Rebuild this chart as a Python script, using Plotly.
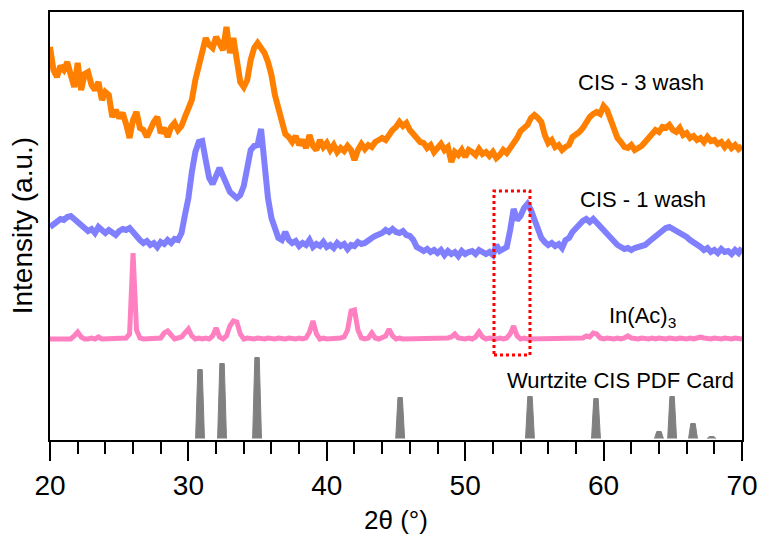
import plotly.graph_objects as go

# 2-theta sampling grid (degrees), 0.25 deg step from 20 to 70
two_theta = [20 + 0.25 * i for i in range(201)]

cis_3wash = [
    393, 370, 363, 374, 370, 378, 365, 353, 377, 350, 366, 368, 355, 350, 358, 340, 348, 345, 323, 330,
    322, 327, 316, 302, 320, 328, 312, 310, 303, 312, 318, 323, 307, 312, 303, 313, 317, 310, 314, 323,
    330, 340, 360, 375, 390, 402, 395, 392, 403, 395, 390, 413, 387, 402, 378, 358, 353, 360, 380, 392,
    397, 393, 387, 378, 365, 345, 332, 318, 306, 303, 298, 304, 295, 300, 292, 305, 294, 290, 300, 293,
    297, 290, 295, 288, 292, 289, 294, 290, 280, 290, 296, 291, 295, 293, 298, 300, 302, 300, 306, 310,
    313, 318, 314, 317, 310, 305, 302, 298, 297, 292, 295, 288, 293, 296, 290, 293, 278, 288, 285, 290,
    283, 290, 288, 285, 291, 286, 288, 284, 288, 282, 285, 290, 287, 292, 295, 302, 309, 312, 315, 322,
    325, 322, 318, 305, 297, 300, 293, 295, 290, 293, 295, 303, 305, 308, 312, 318, 323, 326, 328, 326,
    334, 330, 320, 310, 302, 298, 293, 292, 295, 290, 292, 294, 298, 302, 305, 310, 308, 313, 312, 315,
    310, 308, 312, 305, 307, 302, 304, 300, 302, 298, 303, 299, 300, 296, 298, 293, 297, 292, 295, 291,
    294,
]

cis_1wash = [
    213, 216, 218, 221, 220, 223, 224, 221, 218, 215, 212, 209, 211, 207, 213, 209, 207, 210, 208, 205,
    209, 211, 210, 212, 208, 203, 200, 197, 199, 195, 197, 193, 198, 196, 200, 197, 201, 200, 207, 225,
    242, 268, 288, 298, 299, 280, 262, 256, 264, 272, 264, 257, 248, 245, 242, 245, 254, 272, 290, 294,
    295, 311, 272, 242, 222, 210, 202, 200, 208, 200, 197, 199, 194, 197, 195, 200, 193, 196, 194, 198,
    193, 195, 192, 197, 194, 196, 191, 195, 194, 198, 196, 197, 200, 202, 204, 205, 207, 210, 208, 211,
    208, 207, 209, 205, 204, 200, 193, 191, 189, 191, 188, 190, 187, 190, 185, 189, 186, 188, 184, 189,
    186, 188, 189, 186, 190, 188, 186, 188, 185, 195, 189, 191, 193, 210, 231, 220, 224, 232, 236, 230,
    220, 210, 202, 198, 195, 197, 194, 196, 192, 200, 202, 208, 212, 216, 219, 221, 218, 221, 217, 213,
    210, 205, 202, 198, 195, 193, 191, 192, 190, 192, 193, 194, 195, 198, 201, 204, 207, 209, 212, 213,
    211, 210, 208, 205, 203, 200, 198, 195, 193, 190, 192, 188, 190, 187, 191, 188, 189, 186, 190, 187,
    192,
]

in_ac3 = [
    101, 101, 102, 101, 101, 102, 101, 104, 108, 103, 101, 101, 102, 101, 103, 101, 101, 102, 101, 101,
    102, 101, 102, 106, 187, 110, 102, 101, 101, 102, 101, 102, 102, 107, 109, 105, 101, 102, 103, 107,
    111, 104, 101, 102, 101, 102, 101, 104, 112, 103, 101, 104, 114, 119, 118, 106, 101, 102, 101, 101,
    102, 101, 101, 102, 101, 101, 102, 101, 101, 102, 101, 101, 102, 101, 102, 108, 119, 106, 101, 102,
    101, 101, 102, 101, 102, 103, 110, 129, 130, 110, 102, 101, 102, 107, 102, 101, 102, 104, 111, 104,
    101, 102, 101, 101, 102, 101, 101, 102, 101, 101, 102, 101, 101, 102, 101, 102, 103, 106, 102, 101,
    101, 102, 101, 103, 108, 103, 101, 102, 101, 101, 102, 101, 102, 106, 114, 104, 101, 102, 101, 101,
    102, 101, 101, 102, 101, 101, 102, 101, 101, 102, 101, 101, 102, 101, 102, 104, 103, 107, 106, 102,
    101, 102, 101, 101, 102, 101, 102, 104, 102, 101, 101, 102, 101, 101, 102, 101, 102, 101, 101, 102,
    101, 101, 102, 101, 101, 102, 101, 102, 103, 102, 101, 101, 102, 101, 101, 102, 101, 101, 102, 101,
    101,
]

# Wurtzite CIS reference card: peak positions (deg) and heights (a.u.)
pdf_pos = [30.84, 32.43, 34.96, 45.30, 54.68, 59.45, 64.00, 64.95, 66.46, 67.80]
pdf_height = [69, 75, 81, 41, 42, 40, 7, 42, 15, 2]
pdf_base = 1.5

labels = ["CIS - 3 wash", "CIS - 1 wash", "In(Ac)<sub>3</sub>", "Wurtzite CIS PDF Card"]
label_x = [62.7, 62.85, 62.8, 61.2]
label_y = [358, 241, 123, 60]

# build filled peak outlines for the PDF card
px, py = [], []
for c, h in zip(pdf_pos, pdf_height):
    px += [c - 0.32, c - 0.16, c + 0.16, c + 0.32, None]
    py += [pdf_base, pdf_base + h, pdf_base + h, pdf_base, None]

fig = go.Figure()
fig.add_trace(go.Scatter(x=px, y=py, mode="lines", fill="toself", fillcolor="#808080",
                         line=dict(color="#808080", width=1), connectgaps=False,
                         showlegend=False, hoverinfo="skip"))
fig.add_trace(go.Scatter(x=two_theta, y=in_ac3, mode="lines",
                         line=dict(color="#FF80C0", width=5), showlegend=False))
fig.add_trace(go.Scatter(x=two_theta, y=cis_1wash, mode="lines",
                         line=dict(color="#8080FF", width=6), showlegend=False))
fig.add_trace(go.Scatter(x=two_theta, y=cis_3wash, mode="lines",
                         line=dict(color="#FF8000", width=6), showlegend=False))

font_family = "Liberation Sans, Arial, sans-serif"
annotations = []
for t, x, y in zip(labels, label_x, label_y):
    annotations.append(dict(x=x, y=y, xref="x", yref="y", text=t, showarrow=False,
                            font=dict(size=22, color="black", family=font_family),
                            xanchor="center", yanchor="middle"))
annotations.append(dict(x=0.5, y=-0.187, xref="paper", yref="paper", text="2θ (°)",
                        showarrow=False, font=dict(size=26, color="black", family=font_family),
                        xanchor="center", yanchor="middle"))
annotations.append(dict(x=-0.04, y=0.5, xref="paper", yref="paper", text="Intensity (a.u.)",
                        showarrow=False, textangle=-90,
                        font=dict(size=28, color="black", family=font_family),
                        xanchor="center", yanchor="middle"))

fig.update_layout(
    width=762, height=535,
    margin=dict(l=50, r=20, t=12, b=95),
    paper_bgcolor="white", plot_bgcolor="white",
    font=dict(family=font_family, color="black"),
    annotations=annotations,
    shapes=[dict(type="rect", xref="x", yref="y", x0=52.08, x1=54.68, y0=85, y1=249,
                 line=dict(color="red", width=3, dash="dot"), layer="above")],
    xaxis=dict(range=[20, 70], showline=True, linecolor="black", linewidth=2, mirror=True,
               automargin=False,
               ticks="outside", ticklen=19, tickwidth=2, tickcolor="black",
               tick0=20, dtick=10, showgrid=False, zeroline=False,
               tickfont=dict(size=28, color="black", family=font_family),
               minor=dict(ticks="outside", ticklen=12, tickwidth=2, tickcolor="black",
                          dtick=2, showgrid=False)),
    yaxis=dict(range=[0, 428], showline=True, linecolor="black", linewidth=2, mirror=True,
               automargin=False,
               ticks="", showticklabels=False, showgrid=False, zeroline=False),
)

fig.write_html("out.html")
